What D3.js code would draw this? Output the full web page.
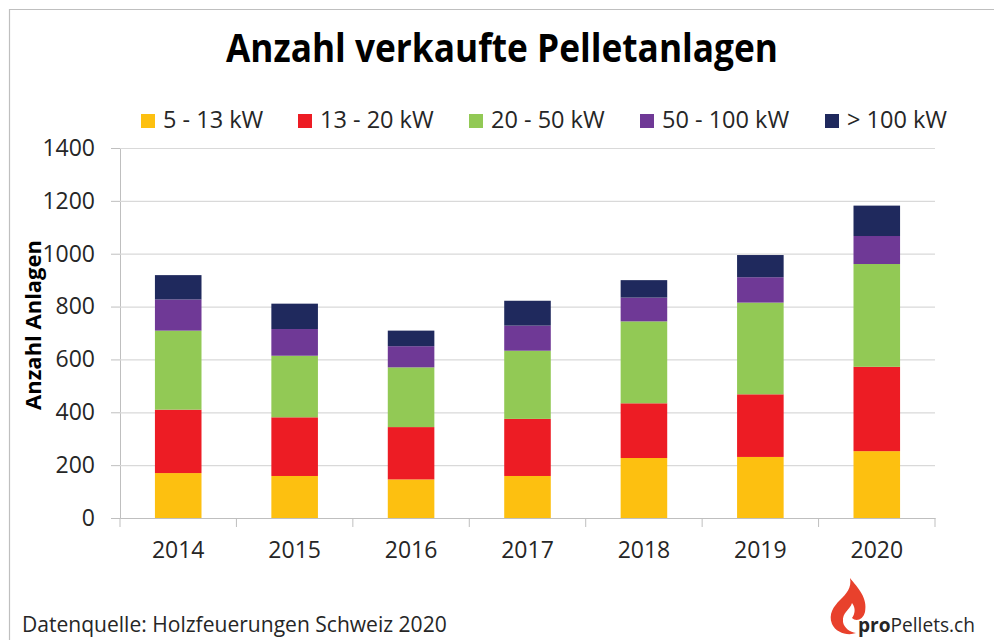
<!DOCTYPE html>
<html><head><meta charset="utf-8">
<script src="https://cdn.jsdelivr.net/npm/d3@7"></script>
<style>
html,body{margin:0;padding:0;background:#fff;}
svg{display:block;font-family:"Open Sans",sans-serif;}
</style></head>
<body>
<svg id="chart" width="994" height="640"></svg>
<script>
const years = ["2014","2015","2016","2017","2018","2019","2020"];
const seriesNames = ["5 - 13 kW","13 - 20 kW","20 - 50 kW","50 - 100 kW","> 100 kW"];
const seriesColors = ["#FDC010","#ED1C24","#92C955","#6F3996","#1F295D"];
const kw5to13   = [170,159,146,159,227,231,253];
const kw13to20  = [240,222,198,216,207,237,319];
const kw20to50  = [299,233,226,258,310,347,389];
const kw50to100 = [118,101, 80, 95, 90, 96,106];
const kwOver100 = [ 92, 96, 59, 94, 66, 84,115];
const yTicks = [0,200,400,600,800,1000,1200,1400];
const titleText = "Anzahl verkaufte Pelletanlagen";
const yLabelText = "Anzahl Anlagen";
const sourceText = "Datenquelle: Holzfeuerungen Schweiz 2020";

(function(){
const seriesValues = [kw5to13,kw13to20,kw20to50,kw50to100,kwOver100];
const rows = years.map((yr,i)=>{const r={year:yr}; seriesNames.forEach((s,j)=>r[s]=seriesValues[j][i]); return r;});
const stack = d3.stack().keys(seriesNames)(rows);

const svg = d3.select("#chart");
const W=994,H=640;
const pL=120,pR=935,pT=148,pB=518;

svg.append("path").attr("d",`M9.5,${H} L9.5,9.5 L${W},9.5`).attr("fill","none").attr("stroke","#bfbfbf").attr("stroke-width",1.2);

const x = d3.scaleBand().domain(years).range([pL,pR]).paddingInner(0.6).paddingOuter(0.3);
const y = d3.scaleLinear().domain([0,1400]).range([pB,pT]);

const yAxis = d3.axisLeft(y).tickValues(yTicks).tickSize(9).tickPadding(16).tickFormat(d3.format("d"));
const gy = svg.append("g").attr("transform",`translate(${pL},0)`).call(yAxis);
gy.select(".domain").attr("stroke","#bfbfbf");
gy.selectAll(".tick line").attr("stroke","#bfbfbf");
gy.selectAll(".tick text").attr("fill","#262626").style("font-size","23px").style("font-family","'Open Sans',sans-serif");
gy.selectAll(".tick").filter(d=>d>0).append("line").attr("x1",0).attr("x2",pR-pL).attr("stroke","#d9d9d9").attr("stroke-width",1.2);

svg.append("g").selectAll("g").data(stack).join("g").attr("fill",(d,i)=>seriesColors[i])
  .selectAll("rect").data(d=>d).join("rect")
  .attr("x",d=>x(d.data.year)).attr("width",x.bandwidth())
  .attr("y",d=>y(d[1])).attr("height",d=>y(d[0])-y(d[1]));

const xAxis = d3.axisBottom(x).tickSize(0).tickPadding(24);
const gx = svg.append("g").attr("transform",`translate(0,${pB})`).call(xAxis);
gx.select(".domain").attr("stroke","#bfbfbf");
gx.selectAll(".tick text").attr("fill","#262626").style("font-size","23px").style("font-family","'Open Sans',sans-serif");
const bounds = years.map(yv=>x(yv)-x.step()*x.paddingInner()/2).concat([pR]);
bounds[0]=pL;
gx.selectAll(".bnd").data(bounds).join("line").attr("class","bnd")
  .attr("x1",d=>d).attr("x2",d=>d).attr("y1",0).attr("y2",9).attr("stroke","#bfbfbf");

function fit(sel,target){
  const w = sel.node().getComputedTextLength();
  const fs = parseFloat(sel.style("font-size"));
  sel.style("font-size",(fs*target/w)+"px");
}

const t = svg.append("text").attr("x",0).attr("y",0).attr("text-anchor","middle")
  .attr("transform","translate(502,62) scale(1,1.14)")
  .style("font-family","'Open Sans',sans-serif").style("font-weight","700").style("font-size","36px").attr("fill","#000").text(titleText);
fit(t,552);

const yl = svg.append("text").attr("transform","translate(41,325) rotate(-90)").attr("text-anchor","middle")
  .style("font-weight","700").style("font-size","20px").attr("fill","#000").text(yLabelText);
fit(yl,170);

const legendX = [141,298,469,640,825];
const lg = svg.append("g").selectAll("g").data(seriesNames).join("g").attr("transform",(d,i)=>`translate(${legendX[i]},114)`);
lg.append("rect").attr("width",14).attr("height",14).attr("fill",(d,i)=>seriesColors[i]);
lg.append("text").attr("x",22).attr("y",13.5).style("font-size","23.5px").attr("fill","#262626").text(d=>d);

const src = svg.append("text").attr("x",22).attr("y",632).style("font-size","21px").attr("fill","#262626").text(sourceText);
fit(src,425);

const logo = svg.append("g").attr("transform","translate(828,578)");
logo.append("path").attr("fill","#E8412C")
  .attr("d","M22,0 C30,10 40,20 37,34 C35,42 28,44 24,40 C27,36 28,30 24,25 C22,32 14,34 15,44 C16,50 22,54 28,55 C20,58 8,55 4,46 C0,36 6,28 12,22 C18,16 24,10 22,0 Z");
const lt = svg.append("text").attr("x",858).attr("y",632).style("font-size","20px").attr("fill","#262626");
lt.append("tspan").style("font-weight","700").text("pro");
lt.append("tspan").text("Pellets.ch");
fit(lt,117);
})();
</script>
</body></html>
